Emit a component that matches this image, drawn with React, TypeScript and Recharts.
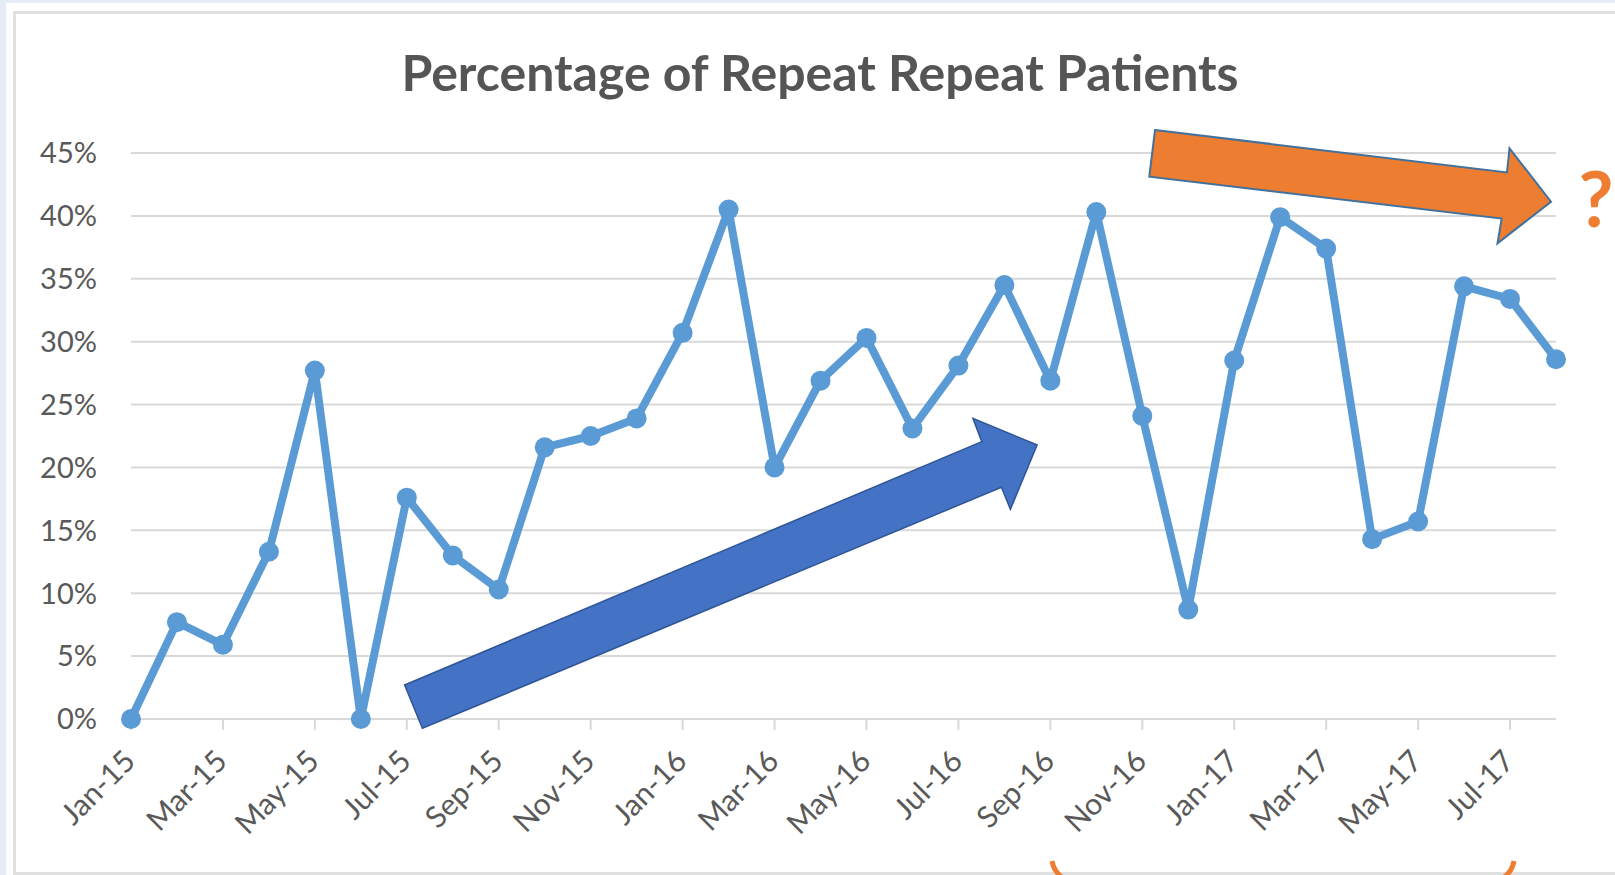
import React from "react";
import { LineChart, Line, XAxis, YAxis, CartesianGrid } from "recharts";

const months = [
  "Jan-15", "Feb-15", "Mar-15", "Apr-15", "May-15", "Jun-15", "Jul-15", "Aug-15",
  "Sep-15", "Oct-15", "Nov-15", "Dec-15", "Jan-16", "Feb-16", "Mar-16", "Apr-16",
  "May-16", "Jun-16", "Jul-16", "Aug-16", "Sep-16", "Oct-16", "Nov-16", "Dec-16",
  "Jan-17", "Feb-17", "Mar-17", "Apr-17", "May-17", "Jun-17", "Jul-17", "Aug-17",
];

// percent of repeat patients per month
const repeatPct = [
  0, 7.7, 5.9, 13.3, 27.7, 0, 17.6, 13.0,
  10.3, 21.6, 22.5, 23.9, 30.7, 40.5, 20.0, 26.9,
  30.3, 23.1, 28.1, 34.5, 26.9, 40.3, 24.1, 8.7,
  28.5, 39.9, 37.4, 14.3, 15.7, 34.4, 33.4, 28.6,
];

const yTicks = [0, 5, 10, 15, 20, 25, 30, 35, 40, 45];

const data = months.map((m, i) => ({ month: m, pct: repeatPct[i] }));

const FONT = "Lato, 'Noto Sans', sans-serif";
const GRID = "#D9D9D9";
const TEXT = "#595959";

function MonthTick(props: any) {
  const { x, y, payload } = props;
  const px = x + 6;
  const py = y + 31;
  return (
    <text
      x={px}
      y={py}
      transform={`rotate(-45, ${px}, ${py})`}
      textAnchor="end"
      fill={TEXT}
      fontSize={30}
      fontFamily={FONT}
    >
      {payload.value}
    </text>
  );
}

export default function App() {
  return (
    <div
      style={{
        position: "absolute",
        left: 0,
        top: 0,
        width: 1615,
        height: 875,
        overflow: "hidden",
        background: "#E6ECF6",
      }}
    >
      <div style={{ position: "absolute", left: 6, top: 3, right: 0, bottom: 0, background: "#fff" }} />
      <div
        style={{
          position: "absolute",
          left: 13,
          top: 11,
          width: 1640,
          height: 858,
          border: "3px solid #E0E0E0",
        }}
      />
      <div style={{ position: "absolute", left: 0, top: 0 }}>
        <LineChart
          width={1615}
          height={875}
          data={data}
          margin={{ top: 153, right: 59, left: 31, bottom: 56 }}
        >
          <CartesianGrid vertical={false} stroke={GRID} strokeWidth={2} />
          <XAxis
            dataKey="month"
            interval={1}
            height={100}
            tick={<MonthTick />}
            tickSize={11}
            tickLine={{ stroke: GRID, strokeWidth: 2 }}
            axisLine={{ stroke: GRID, strokeWidth: 2 }}
            padding={{ left: 0, right: 0 }}
          />
          <YAxis
            domain={[0, 45]}
            ticks={yTicks}
            tickFormatter={(v: number) => `${v}%`}
            axisLine={false}
            tickLine={false}
            tickSize={0}
            tickMargin={34}
            width={100}
            tick={{ fill: TEXT, fontSize: 29, fontFamily: FONT }}
          />
          <Line
            type="linear"
            dataKey="pct"
            stroke="#5B9BD5"
            strokeWidth={8}
            strokeLinejoin="round"
            dot={{ r: 10, fill: "#5B9BD5", stroke: "none" }}
            isAnimationActive={false}
          />
        </LineChart>
      </div>
      <svg
        width={1615}
        height={875}
        style={{ position: "absolute", left: 0, top: 0, pointerEvents: "none" }}
      >
        <text
          x={820}
          y={91}
          textAnchor="middle"
          fill="#555555"
          fontSize={50}
          fontWeight="bold"
          fontFamily={FONT}
        >
          Percentage of Repeat Repeat Patients
        </text>
        <polygon
          points="404.6,685 981.8,441.7 972.9,418.3 1037.1,445 1010.4,509.3 1001.4,487.3 422.4,728.3"
          fill="#4472C4"
          stroke="#2F5597"
          strokeWidth={1.5}
        />
        <polygon
          points="1155,130 1507,172.5 1509.5,148.3 1551,201.7 1497.5,243.3 1501.7,218.5 1149.3,176.7"
          fill="#ED7D31"
          stroke="#41719C"
          strokeWidth={2}
        />
        <text
          x={1596}
          y={227}
          textAnchor="middle"
          fill="#ED7D31"
          fontSize={76}
          fontWeight="bold"
          fontFamily={FONT}
        >
          ?
        </text>
        <path d="M1052,861 Q1054,872 1063,878" fill="none" stroke="#ED7D31" strokeWidth={5} />
        <path d="M1514,861 Q1512,872 1503,878" fill="none" stroke="#ED7D31" strokeWidth={5} />
      </svg>
    </div>
  );
}
